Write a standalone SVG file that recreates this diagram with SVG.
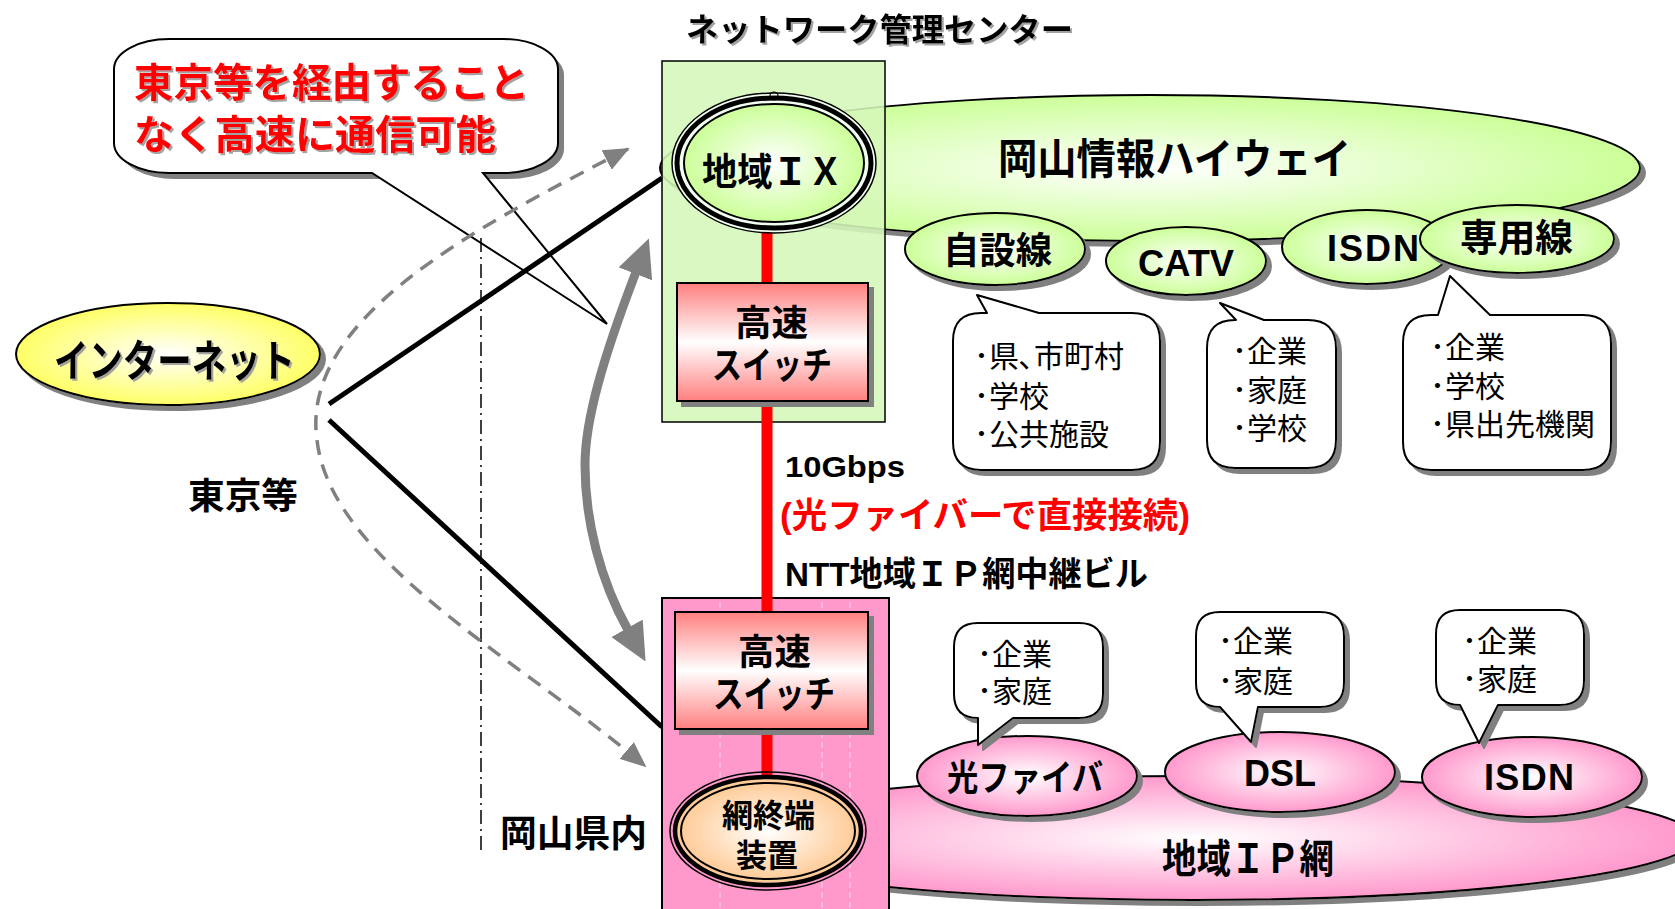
<svg xmlns="http://www.w3.org/2000/svg" width="1675" height="909" viewBox="0 0 1675 909">
<style>
.t{font-family:"Liberation Sans","Noto Sans CJK JP","Noto Sans CJK SC",sans-serif;font-weight:700;dominant-baseline:central;fill:#000}
.r{font-family:"Liberation Sans","Noto Sans CJK JP","Noto Sans CJK SC",sans-serif;font-weight:400;font-size:30px;dominant-baseline:central;fill:#000}
.red{fill:#ff0000}
.bub{fill:#fff;stroke:#000;stroke-width:2;stroke-linejoin:round}
.ol{stroke:#000;stroke-width:2}
</style>
<defs>
<filter id="sh" x="-10%" y="-10%" width="130%" height="130%"><feDropShadow dx="5" dy="5" stdDeviation="0" flood-color="#808080" flood-opacity="1"/></filter>
<filter id="tsh" x="-5%" y="-10%" width="115%" height="130%"><feDropShadow dx="2" dy="2" stdDeviation="0.5" flood-color="#999" flood-opacity="0.9"/></filter>
<radialGradient id="gY"><stop offset="0" stop-color="#ffffff"/><stop offset="1" stop-color="#ffff66"/></radialGradient>
<radialGradient id="gG"><stop offset="0" stop-color="#ffffff"/><stop offset="1" stop-color="#ccff99"/></radialGradient>
<radialGradient id="gP"><stop offset="0" stop-color="#ffffff"/><stop offset="1" stop-color="#ff99cc"/></radialGradient>
<radialGradient id="gO"><stop offset="0" stop-color="#ffffff"/><stop offset="1" stop-color="#ffcc99"/></radialGradient>
<linearGradient id="gS" x1="0" y1="0" x2="0" y2="1"><stop offset="0" stop-color="#ff7f7f"/><stop offset="0.5" stop-color="#ffffff"/><stop offset="1" stop-color="#ff7f7f"/></linearGradient>
<marker id="ah" markerUnits="userSpaceOnUse" viewBox="0 0 26 22" markerWidth="26" markerHeight="22" refX="24" refY="11" orient="auto-start-reverse"><path d="M0,0 L26,11 L0,22 Z" fill="#808080"/></marker>
<marker id="ahb" markerUnits="userSpaceOnUse" viewBox="0 0 38 36" markerWidth="38" markerHeight="36" refX="2" refY="18" orient="auto-start-reverse"><path d="M0,0 L38,18 L0,36 Z" fill="#808080"/></marker>
</defs>
<rect width="1675" height="909" fill="#fff"/>

<!-- callout -->
<g id="callout">
<path d="M175,45 L509,45 A55 30 0 0 1 564,75 L564,149 A55 30 0 0 1 509,179 L175,179 A55 30 0 0 1 120,149 L120,75 A55 30 0 0 1 175,45 Z" fill="#808080"/>
<path d="M169,39 L503,39 A55 30 0 0 1 558,69 L558,143 A55 30 0 0 1 503,173 L483,173 L607,324 L372,173 L169,173 A55 30 0 0 1 114,143 L114,69 A55 30 0 0 1 169,39 Z" fill="#fff" stroke="#000" stroke-width="2" stroke-linejoin="miter"/>
<text class="t red" x="134" y="83" font-size="40" textLength="395" lengthAdjust="spacingAndGlyphs" filter="url(#tsh)">東京等を経由すること</text>
<text class="t red" x="134" y="135" font-size="40" textLength="362" lengthAdjust="spacingAndGlyphs" filter="url(#tsh)">なく高速に通信可能</text>
</g>

<text class="t" x="686" y="30" font-size="32" textLength="387" lengthAdjust="spacingAndGlyphs" filter="url(#tsh)">ネットワーク管理センター</text>
<text class="t" x="188" y="496" font-size="36" textLength="110" lengthAdjust="spacingAndGlyphs">東京等</text>
<text class="t" x="500" y="834" font-size="37" textLength="147" lengthAdjust="spacingAndGlyphs">岡山県内</text>

<!-- connectors -->
<g id="connectors">
<line x1="481" y1="238" x2="481" y2="853" stroke="#000" stroke-width="1.5" stroke-dasharray="14 5 2 5"/>
<line x1="329" y1="404" x2="662" y2="178" stroke="#000" stroke-width="5"/>
<line x1="329" y1="420" x2="662" y2="727" stroke="#000" stroke-width="5"/>
<path d="M628,149 C470,230 300,320 317,440 C330,560 520,660 645,766" fill="none" stroke="#808080" stroke-width="3.5" stroke-dasharray="15 10" marker-start="url(#ah)" marker-end="url(#ah)"/>
<path d="M636,272 C603,358 585,420 585,465 C585,520 600,580 628,630" fill="none" stroke="#808080" stroke-width="9" marker-start="url(#ahb)" marker-end="url(#ahb)"/>
</g>

<!-- internet -->
<g id="internet">
<ellipse cx="168" cy="354" rx="152" ry="51" fill="url(#gY)" class="ol" filter="url(#sh)"/>
<text class="t" x="54" y="361" font-size="44" textLength="241" lengthAdjust="spacingAndGlyphs" filter="url(#tsh)">インターネット</text>
</g>

<!-- Okayama information highway -->
<g id="highway">
<ellipse cx="1150" cy="168" rx="490" ry="73" fill="url(#gG)" class="ol" filter="url(#sh)"/>
<text class="t" x="998" y="159" font-size="42" textLength="353" lengthAdjust="spacingAndGlyphs">岡山情報ハイウェイ</text>
</g>

<!-- regional IP network -->
<g id="ipnet">
<ellipse cx="1194" cy="838" rx="500" ry="62" fill="url(#gP)" class="ol" filter="url(#sh)"/>
<text class="t" x="1162" y="859" font-size="40" textLength="172" lengthAdjust="spacingAndGlyphs">地域ＩＰ網</text>
</g>

<!-- network management center box -->
<g id="nmc">
<rect x="662" y="61" width="223" height="361" fill="#d5f7b8" fill-opacity="0.88" stroke="#000" stroke-width="1.5"/>
</g>

<!-- NTT building box -->
<g id="ntt">
<rect x="662" y="598" width="227" height="320" fill="#ff99cc" stroke="#000" stroke-width="2"/>
<g stroke="#fff" stroke-opacity="0.6" stroke-width="1" stroke-dasharray="6 4">
<line x1="720" y1="602" x2="720" y2="909"/><line x1="822" y1="602" x2="822" y2="909"/><line x1="850" y1="602" x2="850" y2="909"/>
</g>
</g>

<!-- red fiber line -->
<g id="fiber">
<line x1="767" y1="225" x2="767" y2="780" stroke="#ff0000" stroke-width="11"/>
</g>

<g id="sw1">
<rect x="677" y="283" width="191" height="118" fill="url(#gS)" stroke="#000" stroke-width="2" filter="url(#sh)"/>
<text class="t" x="735" y="323" font-size="36" textLength="73" lengthAdjust="spacingAndGlyphs">高速</text>
<text class="t" x="712" y="366" font-size="37" textLength="120" lengthAdjust="spacingAndGlyphs">スイッチ</text>
</g>

<g id="sw2">
<rect x="675" y="612" width="193" height="117" fill="url(#gS)" stroke="#000" stroke-width="2" filter="url(#sh)"/>
<text class="t" x="738" y="652" font-size="36" textLength="73" lengthAdjust="spacingAndGlyphs">高速</text>
<text class="t" x="713" y="695" font-size="37" textLength="122" lengthAdjust="spacingAndGlyphs">スイッチ</text>
</g>

<g id="ix">
<ellipse cx="774" cy="163" rx="102" ry="70" fill="#f2fff0" stroke="#000" stroke-width="1.5"/>
<ellipse cx="774" cy="163" rx="97" ry="65" fill="none" stroke="#000" stroke-width="5"/>
<ellipse cx="774" cy="163" rx="90" ry="59" fill="url(#gG)" stroke="#000" stroke-width="2"/>
<circle cx="774" cy="96" r="4" fill="none" stroke="#000" stroke-width="1.2"/>
<text class="t" x="702" y="172" font-size="38" textLength="141" lengthAdjust="spacingAndGlyphs">地域ＩＸ</text>
</g>

<g id="bras">
<ellipse cx="768" cy="831" rx="98" ry="59" fill="none" stroke="#000" stroke-width="1.5"/>
<ellipse cx="768" cy="831" rx="93" ry="54" fill="#ffcc99" stroke="#000" stroke-width="4.5"/>
<ellipse cx="768" cy="831" rx="87" ry="48" fill="url(#gO)" stroke="#000" stroke-width="2"/>
<text class="t" x="722" y="816" font-size="32" textLength="93" lengthAdjust="spacingAndGlyphs">網終端</text>
<text class="t" x="736" y="856" font-size="32" textLength="62" lengthAdjust="spacingAndGlyphs">装置</text>
</g>

<!-- highway access nodes -->
<g id="jisetsu">
<ellipse cx="995" cy="249" rx="90" ry="36" fill="url(#gG)" class="ol" filter="url(#sh)"/>
<text class="t" x="943" y="251" font-size="37" textLength="109" lengthAdjust="spacingAndGlyphs">自設線</text>
</g>
<g id="catv">
<ellipse cx="1186" cy="261" rx="80" ry="34" fill="url(#gG)" class="ol" filter="url(#sh)"/>
<text class="t" x="1138" y="263" font-size="36" textLength="96" lengthAdjust="spacingAndGlyphs">CATV</text>
</g>
<g id="isdn1">
<ellipse cx="1367" cy="247" rx="85" ry="37" fill="url(#gG)" class="ol" filter="url(#sh)"/>
<text class="t" x="1327" y="248" font-size="36" textLength="92">ISDN</text>
</g>
<g id="senyo">
<ellipse cx="1517" cy="239" rx="97" ry="34" fill="url(#gG)" class="ol" filter="url(#sh)"/>
<text class="t" x="1460" y="238" font-size="38" textLength="113" lengthAdjust="spacingAndGlyphs">専用線</text>
</g>

<!-- IP network access nodes -->
<g id="hikari">
<ellipse cx="1027" cy="776" rx="110" ry="40" fill="url(#gP)" class="ol" filter="url(#sh)"/>
<text class="t" x="947" y="778" font-size="36" textLength="156" lengthAdjust="spacingAndGlyphs">光ファイバ</text>
</g>
<g id="dsl">
<ellipse cx="1280" cy="772" rx="115" ry="40" fill="url(#gP)" class="ol" filter="url(#sh)"/>
<text class="t" x="1244" y="773" font-size="36" textLength="72">DSL</text>
</g>
<g id="isdn2">
<ellipse cx="1532" cy="777" rx="110" ry="40" fill="url(#gP)" class="ol" filter="url(#sh)"/>
<text class="t" x="1484" y="777" font-size="36" textLength="90">ISDN</text>
</g>

<!-- upper bubbles -->
<g id="bubble1">
<path class="bub" filter="url(#sh)" d="M987,313 L977,295 L1039,313 L1132,313 Q1160,313 1160,341 L1160,442 Q1160,470 1132,470 L981,470 Q953,470 953,442 L953,341 Q953,313 981,313 Z"/>
<text class="r" x="974" y="356">･県､市町村</text>
<text class="r" x="974" y="396">･学校</text>
<text class="r" x="974" y="434">･公共施設</text>
</g>
<g id="bubble2">
<path class="bub" filter="url(#sh)" d="M1236,320 L1220,303 L1264,320 L1308,320 Q1336,320 1336,348 L1336,440 Q1336,468 1308,468 L1235,468 Q1207,468 1207,440 L1207,348 Q1207,320 1235,320 Z"/>
<text class="r" x="1232" y="351">･企業</text>
<text class="r" x="1232" y="390">･家庭</text>
<text class="r" x="1232" y="428">･学校</text>
</g>
<g id="bubble3">
<path class="bub" filter="url(#sh)" d="M1438,315 L1450,276 L1490,315 L1583,315 Q1611,315 1611,343 L1611,442 Q1611,470 1583,470 L1431,470 Q1403,470 1403,442 L1403,343 Q1403,315 1431,315 Z"/>
<text class="r" x="1430" y="347">･企業</text>
<text class="r" x="1430" y="386">･学校</text>
<text class="r" x="1430" y="424">･県出先機関</text>
</g>

<!-- lower bubbles -->
<g id="bubble4">
<path class="bub" filter="url(#sh)" d="M978,623 L1079,623 Q1103,623 1103,647 L1103,694 Q1103,718 1079,718 L1013,718 L978,745 L978,718 Q954,718 954,694 L954,647 Q954,623 978,623 Z"/>
<text class="r" x="977" y="654">･企業</text>
<text class="r" x="977" y="691">･家庭</text>
</g>
<g id="bubble5">
<path class="bub" filter="url(#sh)" d="M1220,612 L1320,612 Q1344,612 1344,636 L1344,683 Q1344,707 1320,707 L1258,707 L1251,742 L1220,707 Q1196,707 1196,683 L1196,636 Q1196,612 1220,612 Z"/>
<text class="r" x="1218" y="641">･企業</text>
<text class="r" x="1218" y="681">･家庭</text>
</g>
<g id="bubble6">
<path class="bub" filter="url(#sh)" d="M1460,610 L1560,610 Q1584,610 1584,634 L1584,681 Q1584,705 1560,705 L1498,705 L1479,743 L1460,705 Q1436,705 1436,681 L1436,634 Q1436,610 1460,610 Z"/>
<text class="r" x="1462" y="641">･企業</text>
<text class="r" x="1462" y="679">･家庭</text>
</g>

<!-- link labels -->
<g id="labels">
<text class="t" x="785" y="466" font-size="30" textLength="120" lengthAdjust="spacingAndGlyphs">10Gbps</text>
<text class="t red" x="780" y="515" font-size="35" textLength="410" lengthAdjust="spacingAndGlyphs">(光ファイバーで直接接続)</text>
<text class="t" x="785" y="574" font-size="34" textLength="363" lengthAdjust="spacingAndGlyphs">NTT地域ＩＰ網中継ビル</text>
</g>
</svg>
